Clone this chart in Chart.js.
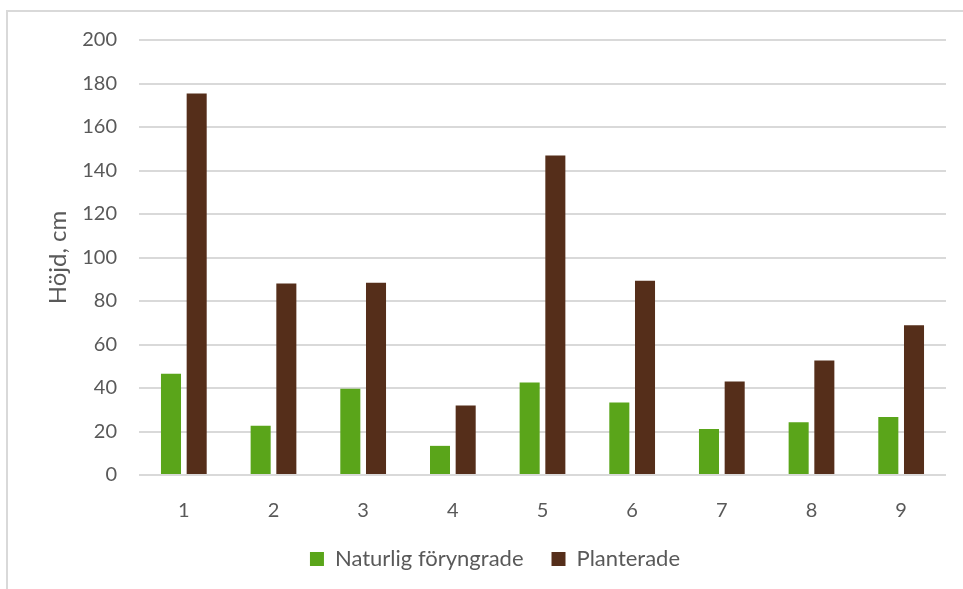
<!DOCTYPE html>
<html lang="sv">
<head>
<meta charset="utf-8">
<title>Höjd, cm</title>
<script src="https://cdn.jsdelivr.net/npm/chart.js@4/dist/chart.umd.min.js"></script>
<style>
  html, body { margin: 0; padding: 0; background: #ffffff; overflow: hidden; }
  #wrap { position: relative; width: 963px; height: 589px; }
  #frame { position: absolute; left: 6px; top: 10px; width: 1000px; height: 600px;
           border: 2px solid #d9d9d9; box-sizing: border-box; pointer-events: none; }
  canvas { position: absolute; left: 0; top: 0; }
</style>
</head>
<body>
<div id="wrap">
  <canvas id="chart" width="963" height="589"></canvas>
  <div id="frame"></div>
</div>
<script>
// Ytor (1–9) och medelhöjd per behandling
const categories = ['1', '2', '3', '4', '5', '6', '7', '8', '9'];
const naturligForyngrade = [46.5, 22.6, 39.7, 13.4, 42.5, 33.3, 21.2, 24.2, 26.7];
const planterade = [175.4, 88.0, 88.4, 31.9, 146.9, 89.3, 43.0, 52.6, 68.8];
const yTicks = [0, 20, 40, 60, 80, 100, 120, 140, 160, 180, 200];

const FONT = 'Lato, "Open Sans", "Liberation Sans", sans-serif';
const TEXT = '#595959';
const GRID = '#d9d9d9';

new Chart(document.getElementById('chart'), {
  type: 'bar',
  data: {
    labels: categories,
    datasets: [
      { label: 'Naturlig föryngrade', data: naturligForyngrade, backgroundColor: '#5aa51a',
        categoryPercentage: 0.573, barPercentage: 0.78 },
      { label: 'Planterade', data: planterade, backgroundColor: '#552e1a',
        categoryPercentage: 0.573, barPercentage: 0.78 }
    ]
  },
  options: {
    responsive: false,
    animation: false,
    devicePixelRatio: 1,
    layout: { padding: { left: 44, right: 17, top: 40, bottom: 9 } },
    plugins: {
      tooltip: { enabled: false },
      legend: {
        position: 'bottom',
        labels: {
          color: TEXT,
          font: { family: FONT, size: 22 },
          boxWidth: 14,
          boxHeight: 14,
          padding: 28
        }
      }
    },
    scales: {
      x: {
        grid: { display: false },
        border: { display: false },
        ticks: { color: TEXT, font: { family: FONT, size: 20 }, padding: 16 },
        afterFit: (s) => { s.height = 45; }
      },
      y: {
        min: 0,
        max: 200,
        afterBuildTicks: (s) => { s.ticks = yTicks.map(v => ({ value: v })); },
        grid: { color: GRID, lineWidth: 2, drawTicks: false },
        border: { display: false },
        ticks: { color: TEXT, font: { family: FONT, size: 20 }, padding: 22 },
        title: {
          display: true,
          text: 'Höjd, cm',
          color: TEXT,
          font: { family: FONT, size: 24 },
          padding: { top: 0, bottom: 0 }
        },
        afterFit: (s) => { s.width = 95; }
      }
    }
  }
});
</script>
</body>
</html>
